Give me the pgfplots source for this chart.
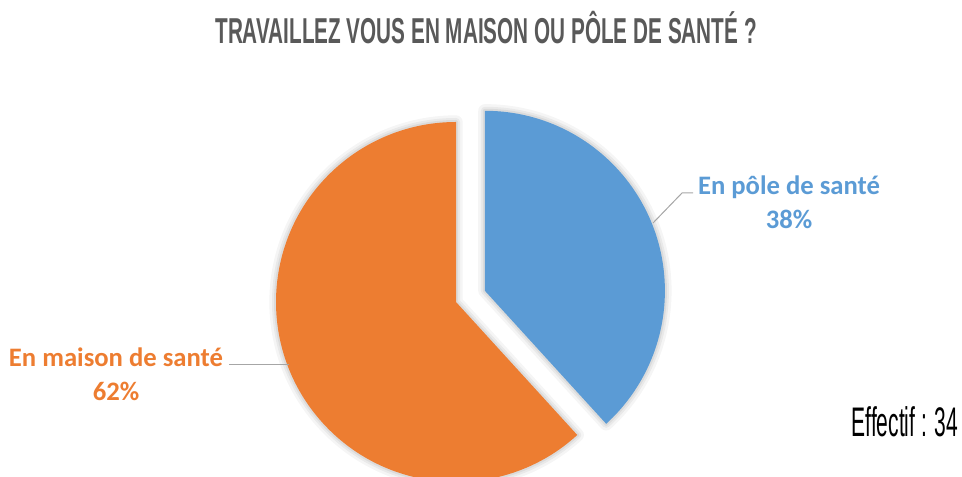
\documentclass[border=0pt]{standalone}
\usepackage{pgfplots}
\pgfplotsset{compat=1.18}
\usepackage{pgfplotstable}
\usepackage{fontspec}
\usepackage{graphicx}
\setmainfont{Carlito}
\newfontfamily\titlefont{Liberation Sans}
\definecolor{pieblue}{HTML}{5B9BD5}
\definecolor{pieorange}{HTML}{ED7D31}
\definecolor{titlegray}{HTML}{595959}
\definecolor{leader}{HTML}{A6A6A6}

\pgfplotstableread{
cat n
pole 13
maison 21
}\piedata

\begin{document}
\begin{tikzpicture}
\pgfplotstablegetelem{0}{n}\of\piedata \let\nA\pgfplotsretval
\pgfplotstablegetelem{1}{n}\of\piedata \let\nB\pgfplotsretval
\pgfmathsetmacro\total{\nA+\nB}
\pgfmathsetmacro\angA{360*\nA/\total}
\pgfmathsetmacro\endA{90-\angA}
\pgfmathsetmacro\midA{90-\angA/2}
\tikzset{
  bluewedge/.style={insert path={(axis cs:456,175) ++(\midA:23.25pt) -- ++(90:135pt) arc[start angle=90, end angle=\endA, radius=135pt] -- cycle}},
  orangewedge/.style={insert path={(axis cs:456,175) -- ++(\endA:135pt) arc[start angle=\endA, end angle=-270, radius=135pt] -- cycle}},
  shad/.style={draw=black, opacity=#1, line join=round}
}
\begin{axis}[x=0.75pt,y=0.75pt, xmin=0,xmax=962,ymin=0,ymax=477,
  axis line style={draw=none}, xtick=\empty, ytick=\empty, clip=true, scale only axis]
% shadows
\path[shad=0.04, line width=10pt, bluewedge];
\path[shad=0.05, line width=6pt, bluewedge];
\path[shad=0.06, line width=3pt, bluewedge];
\path[shad=0.04, line width=10pt, orangewedge];
\path[shad=0.05, line width=6pt, orangewedge];
\path[shad=0.06, line width=3pt, orangewedge];
% wedges
\fill[pieblue, bluewedge];
\fill[pieorange, orangewedge];
% leader lines
\draw[leader, line width=0.75pt] (axis cs:653,254) -- (axis cs:682,284) -- (axis cs:693,284);
\draw[leader, line width=0.75pt] (axis cs:229,112) -- (axis cs:289,112);
% labels
\node[align=center, text=pieblue, font=\bfseries\fontsize{20}{25.5}\selectfont] at (axis cs:789,275) {En pôle de santé\\38\%};
\node[align=center, text=pieorange, font=\bfseries\fontsize{20}{25.5}\selectfont] at (axis cs:116,103) {En maison de santé\\62\%};
% title
\node[anchor=base, text=titlegray, font=\titlefont\bfseries\fontsize{27}{30}\selectfont] at (axis cs:486,433) {\resizebox{406pt}{\height}{TRAVAILLEZ VOUS EN MAISON OU PÔLE DE SANTÉ ?}};
\node[anchor=base east, font=\titlefont\fontsize{31}{34}\selectfont] at (axis cs:963,40) {\resizebox{80pt}{\height}{Effectif : 34}};
\end{axis}
\end{tikzpicture}
\end{document}
